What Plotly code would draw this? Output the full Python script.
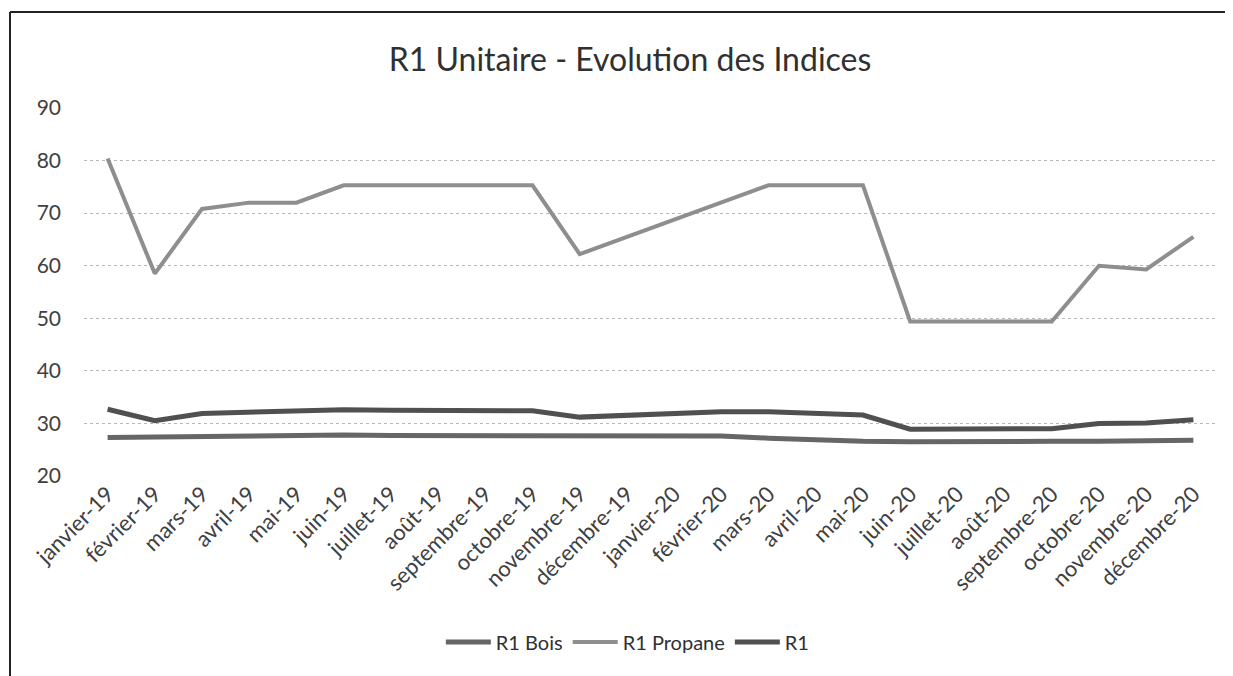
import plotly.graph_objects as go

months = ["janvier-19", "février-19", "mars-19", "avril-19", "mai-19", "juin-19",
          "juillet-19", "août-19", "septembre-19", "octobre-19", "novembre-19", "décembre-19",
          "janvier-20", "février-20", "mars-20", "avril-20", "mai-20", "juin-20",
          "juillet-20", "août-20", "septembre-20", "octobre-20", "novembre-20", "décembre-20"]

r1_bois = [27.3, 27.4, 27.6, 27.7, 27.8, 27.8, 27.7, 27.7, 27.7, 27.7, 27.7, 27.7,
           27.7, 27.6, 27.2, 26.8, 26.6, 26.5, 26.6, 26.6, 26.6, 26.6, 26.7, 26.8]
r1_propane = [80.4, 58.5, 70.8, 72.0, 72.0, 75.3, 75.3, 75.3, 75.3, 75.3, 62.2, 65.5,
              68.8, 72.2, 75.3, 75.3, 75.3, 49.4, 49.4, 49.4, 49.4, 60.0, 59.3, 65.5]
r1 = [32.7, 30.5, 31.9, 32.2, 32.3, 32.6, 32.5, 32.5, 32.5, 32.4, 31.2, 31.5,
      31.9, 32.2, 32.2, 31.8, 31.6, 28.9, 29.0, 29.1, 29.0, 30.0, 30.1, 30.7]

series = [("R1 Bois", r1_bois, "#666666", 5),
          ("R1 Propane", r1_propane, "#8e8e8e", 4),
          ("R1", r1, "#505050", 5)]

FONT = "Lato"
fig = go.Figure()
for name, vals, col, w in series:
    fig.add_trace(go.Scatter(x=months, y=vals, mode="lines", name=name,
                             line=dict(color=col, width=w)))

# the page body adds an 8px offset; margins compensate so the plot area
# lands at screen x 84..1217, y 108..476
PL, PR, PT, PB = 84, 1217, 108, 476
W, H = PR - PL, PB - PT
fig.update_layout(
    width=1233, height=676,
    margin=dict(l=PL - 8, r=1233 + 8 - PR, t=PT - 8, b=676 + 8 - PB, autoexpand=False),
    paper_bgcolor="white", plot_bgcolor="white",
    font=dict(family=FONT, color="#404040", size=18),
    title=dict(text="R1 Unitaire - Evolution des Indices", x=(630 - 8) / 1233, xanchor="center",
               y=1 - 52 / 676, yanchor="middle",
               font=dict(family=FONT, size=32, color="#303030")),
    showlegend=True,
    legend=dict(orientation="h", x=0.48, xanchor="center", y=(PB - 642) / H, yanchor="middle",
                font=dict(family=FONT, size=20, color="#303030"), itemwidth=45),
    xaxis=dict(type="category", range=[-0.5, 23.5], tickangle=-45, automargin=False,
               showgrid=False, showline=False, ticks="", zeroline=False,
               tickfont=dict(family=FONT, size=22, color="#404040")),
    yaxis=dict(range=[20, 90], dtick=10, showgrid=True, gridcolor="#b8b8b8",
               griddash="dot", gridwidth=1, zeroline=False, showline=False, ticks="",
               ticklabelstandoff=22, automargin=False,
               tickfont=dict(family=FONT, size=21, color="#404040")),
)

# outer frame (scanned chart border)
fig.add_shape(type="line", xref="paper", yref="paper",
              x0=(10 - PL) / W, x1=(10 - PL) / W,
              y0=(PB - 12) / H, y1=(PB - 690) / H,
              line=dict(color="#222222", width=2))
fig.add_shape(type="line", xref="paper", yref="paper",
              x0=(10 - PL) / W, x1=(1240 - PL) / W,
              y0=(PB - 12) / H, y1=(PB - 12) / H,
              line=dict(color="#222222", width=2))

fig.write_html("out.html")
